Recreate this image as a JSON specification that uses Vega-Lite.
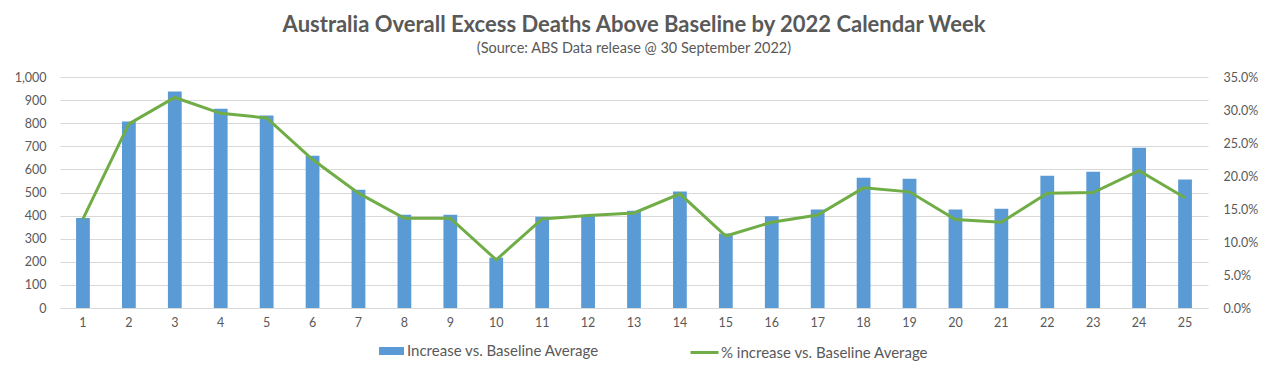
{
  "$schema": "https://vega.github.io/schema/vega-lite/v6.json",
  "autosize": {"type": "none"},
  "width": 1148,
  "height": 231,
  "padding": {"left": 60, "top": 77, "right": 64, "bottom": 76},
  "background": "white",
  "title": {
    "text": "Australia Overall Excess Deaths Above Baseline by 2022 Calendar Week",
    "subtitle": "(Source:  ABS Data release @ 30 September  2022)",
    "anchor": "middle",
    "font": "Lato",
    "fontSize": 22,
    "fontWeight": "bold",
    "color": "#595959",
    "subtitleFont": "Lato",
    "subtitleFontSize": 14.5,
    "subtitleColor": "#595959",
    "subtitlePadding": 5,
    "offset": 15
  },
  "config": {
    "font": "Lato",
    "view": {"stroke": null},
    "axis": {"labelColor": "#595959", "labelFontSize": 12.5, "labelFont": "Lato", "title": null},
    "legend": {"labelFont": "Lato", "labelLimit": 0}
  },
  "data": {
    "values": [
      {"week": 1, "increase": 390, "pct": 0.135},
      {"week": 2, "increase": 807, "pct": 0.279},
      {"week": 3, "increase": 937, "pct": 0.319},
      {"week": 4, "increase": 863, "pct": 0.295},
      {"week": 5, "increase": 833, "pct": 0.288},
      {"week": 6, "increase": 659, "pct": 0.225},
      {"week": 7, "increase": 512, "pct": 0.174},
      {"week": 8, "increase": 404, "pct": 0.136},
      {"week": 9, "increase": 404, "pct": 0.136},
      {"week": 10, "increase": 218, "pct": 0.073},
      {"week": 11, "increase": 395, "pct": 0.135},
      {"week": 12, "increase": 402, "pct": 0.140},
      {"week": 13, "increase": 421, "pct": 0.144},
      {"week": 14, "increase": 504, "pct": 0.173},
      {"week": 15, "increase": 322, "pct": 0.109},
      {"week": 16, "increase": 397, "pct": 0.130},
      {"week": 17, "increase": 426, "pct": 0.141},
      {"week": 18, "increase": 564, "pct": 0.182},
      {"week": 19, "increase": 560, "pct": 0.176},
      {"week": 20, "increase": 426, "pct": 0.134},
      {"week": 21, "increase": 430, "pct": 0.130},
      {"week": 22, "increase": 573, "pct": 0.174},
      {"week": 23, "increase": 590, "pct": 0.175},
      {"week": 24, "increase": 694, "pct": 0.208},
      {"week": 25, "increase": 556, "pct": 0.167}
    ]
  },
  "encoding": {
    "x": {
      "field": "week",
      "type": "ordinal",
      "scale": {"paddingInner": 0.7, "paddingOuter": 0.35},
      "axis": {
        "labelAngle": 0,
        "ticks": false,
        "domainColor": "#D9D9D9",
        "labelPadding": 8
      }
    }
  },
  "layer": [
    {
      "mark": {"type": "bar"},
      "encoding": {
        "y": {
          "field": "increase",
          "type": "quantitative",
          "scale": {"domain": [0, 1000]},
          "axis": {
            "values": [0, 100, 200, 300, 400, 500, 600, 700, 800, 900, 1000],
            "format": ",.0f",
            "grid": true,
            "gridColor": "#D9D9D9",
            "domain": false,
            "ticks": false,
            "labelPadding": 14
          }
        },
        "color": {
          "datum": "Increase vs. Baseline Average",
          "scale": {"range": ["#5B9BD5"]},
          "legend": {
            "title": null,
            "orient": "none",
            "legendX": 324,
            "legendY": 266.5,
            "symbolType": "M-2.5,-0.8H2.5V0.8H-2.5Z",
            "symbolSize": 100,
            "symbolStrokeWidth": 0,
            "labelOffset": 8,
            "labelFontSize": 15,
            "labelColor": "#595959",
            "padding": 0
          }
        }
      }
    },
    {
      "mark": {"type": "line", "strokeWidth": 3},
      "encoding": {
        "y": {
          "field": "pct",
          "type": "quantitative",
          "scale": {"domain": [0, 0.35]},
          "axis": {
            "orient": "right",
            "values": [0, 0.05, 0.1, 0.15, 0.2, 0.25, 0.3, 0.35],
            "format": ".1%",
            "grid": false,
            "domain": false,
            "ticks": false,
            "labelPadding": 15
          }
        },
        "stroke": {
          "datum": "% increase vs. Baseline Average",
          "scale": {"range": ["#70AD47"]},
          "legend": {
            "title": null,
            "orient": "none",
            "legendX": 629,
            "legendY": 260,
            "symbolType": "stroke",
            "symbolSize": 784,
            "symbolStrokeWidth": 3,
            "labelOffset": 1,
            "labelFontSize": 15,
            "labelColor": "#595959",
            "padding": 0
          }
        }
      }
    }
  ],
  "resolve": {"scale": {"y": "independent"}}
}
